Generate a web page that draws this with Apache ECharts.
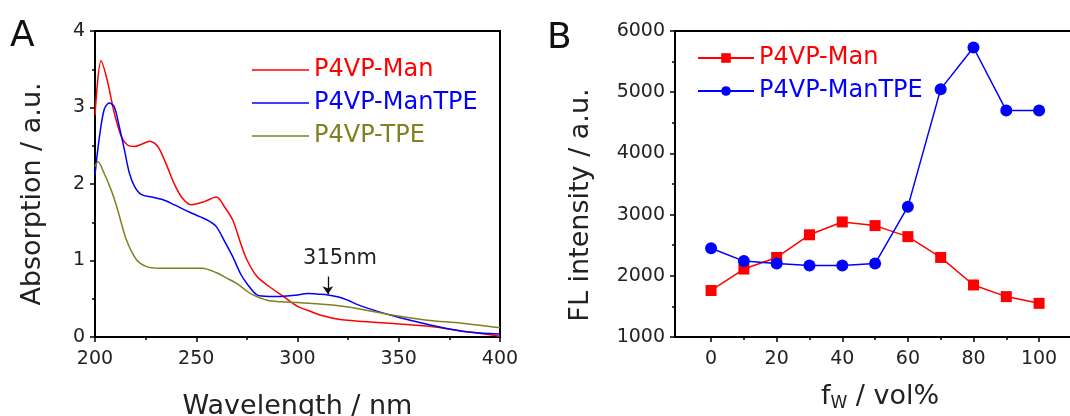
<!DOCTYPE html>
<html><head><meta charset="UTF-8">
<title>Absorption and FL intensity</title>
<script src="https://cdn.jsdelivr.net/npm/echarts@6/dist/echarts.min.js"></script>
<style>
  html, body { margin: 0; padding: 0; background: #fff; }
  #g1 { width: 1070px; height: 416px; }
</style>
</head>
<body>
<div id="g1"></div>
<script type="text/javascript">
// ---- panel A : absorption spectra (wavelength / absorption) ----
var manWl   = [200, 203, 206, 209.5, 213, 216, 219.5, 223, 227, 231, 235, 239, 243, 247.5, 254, 260, 264, 268, 272, 275, 280, 286, 293, 300, 305, 312, 321, 340, 365, 381, 395, 400];
var manAbs  = [2.90, 3.61, 3.36, 2.93, 2.62, 2.51, 2.49, 2.52, 2.56, 2.49, 2.27, 2.01, 1.82, 1.73, 1.77, 1.83, 1.70, 1.53, 1.22, 1.01, 0.79, 0.66, 0.53, 0.40, 0.35, 0.28, 0.23, 0.19, 0.14, 0.08, 0.03, 0.01];
var mtpeWl  = [200, 202, 204.5, 207, 209.5, 212, 214.5, 217, 219.5, 223, 228, 233, 239, 246, 252, 256, 260, 264, 268, 272, 275, 280, 286, 292, 300, 305, 310, 315, 322, 332, 348, 365, 381, 395, 400];
var mtpeAbs = [2.12, 2.58, 2.97, 3.06, 3.01, 2.75, 2.45, 2.14, 1.97, 1.86, 1.83, 1.80, 1.73, 1.64, 1.57, 1.52, 1.44, 1.25, 1.05, 0.82, 0.70, 0.55, 0.53, 0.53, 0.55, 0.57, 0.56, 0.55, 0.51, 0.40, 0.27, 0.16, 0.075, 0.045, 0.04];
var tpeWl   = [200, 201.5, 204.5, 208, 211, 215.5, 220.5, 225.5, 232, 243, 253, 260, 265, 270, 275, 278, 285, 292, 300, 316, 332, 348, 364, 381, 400];
var tpeAbs  = [2.23, 2.29, 2.14, 1.92, 1.68, 1.27, 1.01, 0.92, 0.90, 0.90, 0.90, 0.84, 0.77, 0.70, 0.60, 0.55, 0.48, 0.46, 0.45, 0.42, 0.36, 0.28, 0.22, 0.18, 0.12];

// ---- panel B : FL intensity vs water fraction ----
var fw       = [0, 10, 20, 30, 40, 50, 60, 70, 80, 90, 100];
var flMan    = [1760, 2110, 2300, 2670, 2880, 2820, 2640, 2300, 1850, 1660, 1550];
var flManTPE = [2450, 2240, 2200, 2170, 2170, 2200, 3130, 5050, 5730, 4700, 4700];
var fwTicks      = [0, 20, 40, 60, 80, 100];
var fwMinorTicks = [10, 30, 50, 70, 90];

function zip(xs, ys) {
    var out = [];
    for (var i = 0; i < xs.length; i++) out.push([xs[i], ys[i]]);
    return out;
}

var RED = '#ff0000', BLUE = '#0000ff', OLIVE = '#808020';
var FONT = 'DejaVu Sans';
var txt = '#222';

function plain(v) { return String(v); }

function axisCommon(extra) {
    var a = {
        axisLine: {onZero: false, lineStyle: {color: '#000', width: 2}},
        axisTick: {show: true, length: 5, lineStyle: {color: '#000', width: 1.5}},
        minorTick: {show: true, splitNumber: 2, length: 3, lineStyle: {color: '#000', width: 1.5}},
        splitLine: {show: false},
        minorSplitLine: {show: false},
        axisLabel: {color: txt, fontSize: 19, fontFamily: FONT, margin: 10, formatter: plain},
        nameLocation: 'middle',
        nameTextStyle: {color: txt, fontSize: 27, fontFamily: FONT}
    };
    for (var k in extra) a[k] = extra[k];
    return a;
}

var option = {
    animation: false,
    backgroundColor: '#fff',
    title: [
        {text: 'A', left: 10, top: 19, padding: 0, textStyle: {fontSize: 36, fontWeight: 'normal', fontFamily: FONT, color: '#111'}},
        {text: 'B', left: 547, top: 21, padding: 0, textStyle: {fontSize: 36, fontWeight: 'normal', fontFamily: FONT, color: '#111'}}
    ],
    grid: [
        {left: 95, top: 31, width: 405, height: 306, outerBoundsMode: 'none', show: true, borderColor: '#000', borderWidth: 2},
        {left: 675, top: 31, width: 410, height: 306, outerBoundsMode: 'none', show: true, borderColor: '#000', borderWidth: 2}
    ],
    legend: [
        {
            left: 247, top: 52, orient: 'vertical', itemWidth: 57, itemHeight: 1.6, itemGap: 7,
            icon: 'rect',
            textStyle: {fontSize: 24, fontFamily: FONT, lineHeight: 26},
            data: [
                {name: 'P4VP-Man', textStyle: {color: RED}},
                {name: 'P4VP-ManTPE', textStyle: {color: BLUE}},
                {name: 'P4VP-TPE', textStyle: {color: OLIVE}}
            ]
        },
        {
            left: 692, top: 40, orient: 'vertical', itemWidth: 56, itemHeight: 12, itemGap: 7,
            textStyle: {fontSize: 24, fontFamily: FONT, lineHeight: 26},
            formatter: function (n) { return n.replace('B: ', ''); },
            data: [
                {name: 'B: P4VP-Man', textStyle: {color: RED}},
                {name: 'B: P4VP-ManTPE', textStyle: {color: BLUE}}
            ]
        }
    ],
    xAxis: [
        axisCommon({type: 'value', gridIndex: 0, min: 200, max: 400, interval: 50,
            axisLabel: {color: txt, fontSize: 19, fontFamily: FONT, margin: 13, formatter: plain},
            name: 'Wavelength / nm', nameGap: 56}),
        axisCommon({type: 'value', gridIndex: 1, min: -11, max: 114, position: 'bottom',
            axisTick: {show: true, length: 5, customValues: fwTicks, lineStyle: {color: '#000', width: 1.5}},
            axisLabel: {color: txt, fontSize: 19, fontFamily: FONT, margin: 13, customValues: fwTicks, formatter: plain},
            minorTick: {show: false},
            name: '{a|f}{s|W}{a| / vol%}', nameGap: 44,
            nameTextStyle: {color: txt, fontSize: 27, fontFamily: FONT,
                rich: {a: {fontSize: 27, fontFamily: FONT, color: txt},
                       s: {fontSize: 17, fontFamily: FONT, color: txt, padding: [14, 0, 0, 0]}}}}),
        {type: 'value', gridIndex: 1, min: -11, max: 114, position: 'bottom',
            axisLine: {show: false},
            axisTick: {show: true, length: 3, customValues: fwMinorTicks, lineStyle: {color: '#000', width: 1.5}},
            axisLabel: {show: false},
            splitLine: {show: false}}
    ],
    yAxis: [
        axisCommon({type: 'value', gridIndex: 0, min: 0, max: 4, interval: 1,
            name: 'Absorption / a.u.', nameGap: 49,
            nameTextStyle: {color: txt, fontSize: 27, fontFamily: FONT, padding: [0, 20, 0, 0]}}),
        axisCommon({type: 'value', gridIndex: 1, min: 1000, max: 6000, interval: 1000,
            name: 'FL intensity / a.u.', nameGap: 81,
            nameTextStyle: {color: txt, fontSize: 27, fontFamily: FONT, padding: [0, 42, 0, 0]}})
    ],
    series: [
        {name: 'P4VP-Man', type: 'line', xAxisIndex: 0, yAxisIndex: 0, data: zip(manWl, manAbs),
            symbol: 'none', smooth: 0.3, lineStyle: {color: RED, width: 1.5}, itemStyle: {color: RED}},
        {name: 'P4VP-ManTPE', type: 'line', xAxisIndex: 0, yAxisIndex: 0, data: zip(mtpeWl, mtpeAbs),
            symbol: 'none', smooth: 0.3, lineStyle: {color: BLUE, width: 1.5}, itemStyle: {color: BLUE},
            markLine: {
                silent: true, symbol: ['none', 'arrow'], symbolSize: 8,
                lineStyle: {color: '#111', width: 1.3, type: 'solid'},
                label: {show: false},
                data: [[{coord: [315, 0.79]}, {coord: [315, 0.56]}]]
            },
            markPoint: {
                silent: true, symbol: 'circle', symbolSize: 2,
                itemStyle: {color: 'rgba(0,0,0,0)'},
                label: {show: true, position: 'inside', formatter: '315nm', color: txt, fontSize: 21, fontFamily: FONT},
                data: [{coord: [321, 1.03]}]
            }},
        {name: 'P4VP-TPE', type: 'line', xAxisIndex: 0, yAxisIndex: 0, data: zip(tpeWl, tpeAbs),
            symbol: 'none', smooth: 0.3, lineStyle: {color: OLIVE, width: 1.5}, itemStyle: {color: OLIVE}},
        {name: 'B: P4VP-Man', type: 'line', xAxisIndex: 1, yAxisIndex: 1, data: zip(fw, flMan),
            symbol: 'rect', symbolSize: 11, lineStyle: {color: RED, width: 1.5}, itemStyle: {color: RED}},
        {name: 'B: P4VP-ManTPE', type: 'line', xAxisIndex: 1, yAxisIndex: 1, data: zip(fw, flManTPE),
            symbol: 'circle', symbolSize: 12, lineStyle: {color: BLUE, width: 1.5}, itemStyle: {color: BLUE}}
    ]
};

var myChart = echarts.init(document.getElementById('g1'));
myChart.setOption(option);
</script>
</body>
</html>
